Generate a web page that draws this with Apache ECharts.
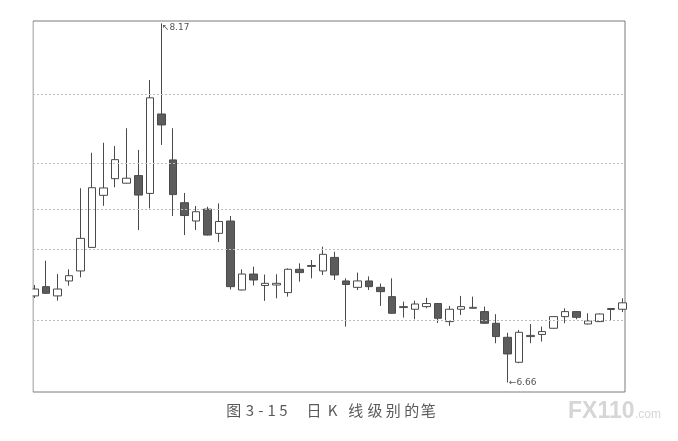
<!DOCTYPE html>
<html>
<head>
<meta charset="utf-8">
<script src="https://cdn.jsdelivr.net/npm/echarts@6/dist/echarts.min.js"></script>
<style>
html,body{margin:0;padding:0;background:#fff;}
#c{width:678px;height:441px;}
</style>
</head>
<body>
<div id="c"></div>
<script>
// Daily candles (index 0..51)
var opens  = [7.024,7.063,7.024,7.087,7.129,7.228,7.447,7.517,7.498,7.530,7.455,7.789,7.596,7.416,7.339,7.389,7.287,7.339,7.049,7.116,7.068,7.070,7.038,7.136,7.148,7.129,7.186,7.087,7.060,7.087,7.060,7.021,6.975,6.968,6.979,6.992,6.916,6.968,6.972,6.958,6.909,6.850,6.745,6.853,6.862,6.888,6.937,6.958,6.906,6.916,6.967,6.968];
var closes = [7.053,7.035,7.053,7.109,7.266,7.479,7.478,7.597,7.519,7.448,7.857,7.743,7.450,7.362,7.378,7.280,7.337,7.063,7.116,7.091,7.077,7.077,7.136,7.122,7.152,7.199,7.112,7.072,7.087,7.063,7.042,6.951,6.979,6.990,6.992,6.930,6.968,6.979,6.976,6.909,6.853,6.780,6.871,6.858,6.874,6.937,6.958,6.934,6.919,6.948,6.971,6.995];
var lows   = [7.015,7.032,7.004,7.067,7.102,7.226,7.403,7.481,7.496,7.301,7.392,7.659,7.360,7.280,7.301,7.278,7.251,7.051,7.047,7.068,7.003,7.014,7.021,7.084,7.098,7.112,7.091,6.895,7.049,7.049,6.982,6.949,6.933,6.926,6.972,6.910,6.898,6.944,6.971,6.907,6.825,6.660,6.741,6.825,6.832,6.886,6.909,6.926,6.904,6.914,6.920,6.956];
var highs  = [7.070,7.172,7.116,7.136,7.477,7.626,7.668,7.654,7.729,7.638,7.932,8.170,7.729,7.457,7.402,7.399,7.413,7.360,7.136,7.147,7.114,7.115,7.140,7.161,7.175,7.231,7.210,7.098,7.122,7.106,7.076,7.098,7.000,7.004,7.016,6.994,6.982,7.024,7.021,6.979,6.947,6.869,6.881,6.906,6.895,6.939,6.972,6.960,6.951,6.950,6.972,7.014];
// Dotted reference levels
var gridLevels = [7.869, 7.579, 7.394, 7.217, 6.923];
// Annotated extremes
var peakPoint   = {index: 11, value: 8.17, label: '8.17'};
var troughPoint = {index: 41, value: 6.66, label: '6.66'};
// Caption characters
var captionChars = ['图', '3', '-', '1', '5', '日', 'K', '线', '级', '别', '的', '笔'];

var data = opens.map(function (o, i) { return [i, o, closes[i], lows[i], highs[i]]; });

var captionX = [233.7, 250, 260.8, 271.7, 283.3, 314, 332.5, 355.8, 375, 393.3, 411.7, 428.3];
var graphics = captionChars.map(function (ch, i) {
  return {type: 'text', x: captionX[i], y: 410, style: {text: ch, font: '15px "Noto Sans CJK SC", sans-serif', fill: '#5a5a5a', textAlign: 'center', textVerticalAlign: 'middle'}};
});
graphics.push({type: 'text', x: 568, y: 412, style: {text: 'FX110', font: 'bold 23px "Liberation Sans", sans-serif', fill: '#d6d6d6', textVerticalAlign: 'middle'}});
graphics.push({type: 'text', x: 635, y: 415, style: {text: '.com', font: '12px "Liberation Sans", sans-serif', fill: '#d6d6d6', textVerticalAlign: 'middle'}});
graphics.push({type: 'rect', shape: {x: 0, y: 15, width: 32.5, height: 385}, style: {fill: '#ffffff'}, z: 100});

var chart = echarts.init(document.getElementById('c'), null, {renderer: 'canvas'});
chart.setOption({
  animation: false,
  backgroundColor: '#ffffff',
  graphic: graphics,
  grid: {left: 33, top: 21, width: 592, height: 371, show: true, borderColor: '#7a7a7a', borderWidth: 1, backgroundColor: 'transparent'},
  xAxis: {type: 'value', min: -0.127, max: 51.2, show: false},
  yAxis: {type: 'value', min: 6.62, max: 8.18, show: false},
  series: [{
    type: 'candlestick',
    data: data,
    barWidth: 8,
    clip: true,
    itemStyle: {color: '#ffffff', color0: '#5c5c5c', borderColor: '#4a4a4a', borderColor0: '#4a4a4a', borderWidth: 1},
    markLine: {
      silent: true,
      symbol: ['none', 'none'],
      label: {show: false},
      lineStyle: {type: [2, 2], color: '#bcbcbc', width: 1},
      data: gridLevels.map(function (v) { return {yAxis: v}; })
    },
    markPoint: {
      silent: true,
      symbol: 'circle',
      symbolSize: 1,
      itemStyle: {color: 'rgba(0,0,0,0)'},
      data: [
        {coord: [peakPoint.index, peakPoint.value], label: {show: true, position: 'right', distance: 0, offset: [0, 4], formatter: '↖' + peakPoint.label, fontSize: 9, color: '#555', fontFamily: '"DejaVu Sans", sans-serif'}},
        {coord: [troughPoint.index, troughPoint.value], label: {show: true, position: 'right', distance: 1, offset: [0, 0], formatter: '←' + troughPoint.label, fontSize: 9, color: '#555', fontFamily: '"DejaVu Sans", sans-serif'}}
      ]
    }
  }]
});
</script>
</body>
</html>
